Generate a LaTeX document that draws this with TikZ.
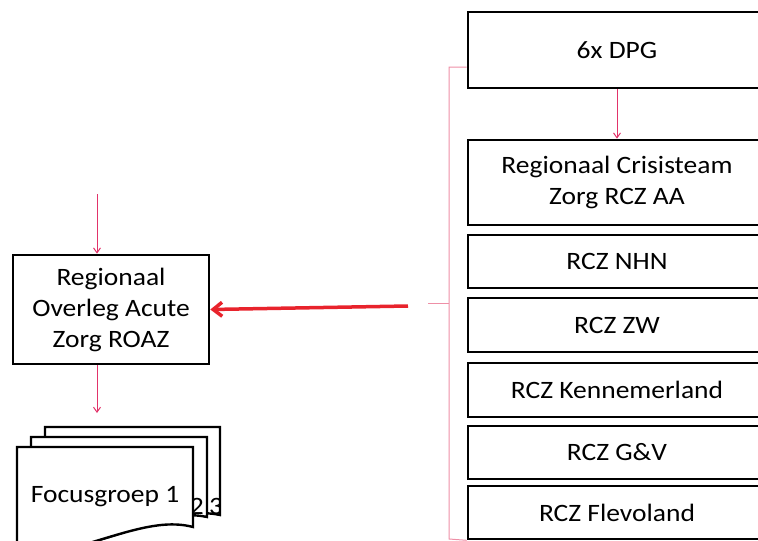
\documentclass[tikz,border=0pt]{standalone}
\usepackage{fontspec}
\setmainfont{Carlito}[FakeStretch=1.1]
\usetikzlibrary{arrows.meta}
\begin{document}
\begin{tikzpicture}[x=1pt, y=-1pt,
  box/.style={draw=black, line width=2.6pt, fill=white, align=center, inner sep=0pt,
    minimum width=298pt, font=\fontsize{25}{31}\selectfont},
  sheet/.style={draw=black, line width=2.4pt, fill=white},
  sheettext/.style={inner sep=0pt, font=\fontsize{25}{31}\selectfont},
  thinarr/.style={draw=linkred, line width=1pt, -{Straight Barb[length=5pt, width=7pt]}},
  bigarr/.style={draw=arrred, line width=3.5pt, -{Straight Barb[length=9pt, width=14pt]}},
  bracket/.style={draw=bracketpink, line width=1pt}]
\definecolor{linkred}{HTML}{E2336A}
\definecolor{arrred}{HTML}{E8232C}
\definecolor{bracketpink}{HTML}{EE8FA6}
\useasboundingbox (0,0) rectangle (758,541);
\clip (0,0) rectangle (758,541);
% right column
\node[box, minimum height=76pt] (dpg) at (617,50) {6x DPG};
\node[box, minimum height=85pt] (rczaa) at (617,182.5) {Regionaal Crisisteam\\Zorg RCZ AA};
\node[box, minimum height=53pt] (rcznhn) at (617,261.5) {RCZ NHN};
\node[box, minimum height=54pt] (rczzw) at (617,325) {RCZ ZW};
\node[box, minimum height=54pt] (rczken) at (617,390) {RCZ Kennemerland};
\node[box, minimum height=53pt] (rczgv) at (617,452.5) {RCZ G\&V};
\node[box, minimum height=53pt] (rczflev) at (617,512.5) {RCZ Flevoland};
\draw[thinarr] (dpg.south) -- (rczaa.north);
% bracket round the right column
\coordinate (bracetip) at (449,303);
\draw[bracket] (dpg.west |- 0,67) -- (449,67) -- (449,539) -- (rczflev.south west);
\draw[bracket] (bracetip) -- (428,303);
% left column
\node[box, minimum width=196pt, minimum height=109pt] (roaz) at (111,309.5)
  {Regionaal\\Overleg Acute\\Zorg ROAZ};
\coordinate (roazin) at (97,194);
\coordinate (src) at (408,306);
\draw[thinarr] (roazin) -- (roaz.north -| roazin);
\draw[bigarr] (src) -- (roaz.east);
% focusgroups
\coordinate (docstop) at (97,413);
\draw[thinarr] (roaz.south -| docstop) -- (docstop);
\draw[sheet] (45,427) -- (220,427) -- (220,515) .. controls (175,505) and (125,540) .. (45,552) -- cycle;
\begin{scope}
\clip (45,427) rectangle (218.5,520);
\node[sheettext, anchor=west] (fg3) at (209,506) {3};
\end{scope}
\draw[sheet] (31,437) -- (207,437) -- (207,517) .. controls (162,507) and (110,542) .. (31,555) -- cycle;
\node[sheettext, anchor=east] (fg2) at (204,506) {2};
\draw[sheet] (17,447) -- (193,447) -- (193,527) .. controls (148,515) and (96,548) .. (17,560) -- cycle;
\node[sheettext] (fg1) at (105,497) {Focusgroep 1};
\end{tikzpicture}
\end{document}
